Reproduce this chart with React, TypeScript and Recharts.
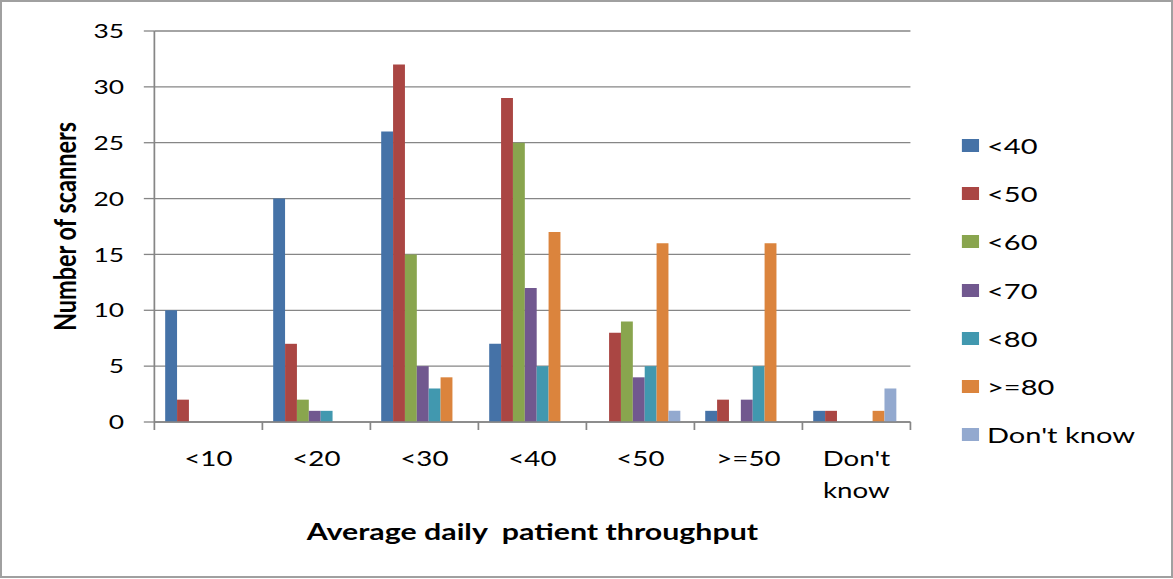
import React from 'react';
import { BarChart, Bar, XAxis, YAxis, CartesianGrid, Legend } from 'recharts';

// Throughput bands along the x axis
const categories = ['<10', '<20', '<30', '<40', '<50', '>=50', "Don't know"];

// Scanner counts per series, one value per throughput band
const lt40 = [10, 20, 26, 7, 0, 1, 1];
const lt50 = [2, 7, 32, 29, 8, 2, 1];
const lt60 = [0, 2, 15, 25, 9, 0, 0];
const lt70 = [0, 1, 5, 12, 4, 2, 0];
const lt80 = [0, 1, 3, 5, 5, 5, 0];
const ge80 = [0, 0, 4, 17, 16, 16, 1];
const dontKnow = [0, 0, 0, 0, 1, 0, 3];

const yTicks = [0, 5, 10, 15, 20, 25, 30, 35];

const series = [
  { key: 'lt40', name: '<40', values: lt40, color: '#4572A7' },
  { key: 'lt50', name: '<50', values: lt50, color: '#AA4643' },
  { key: 'lt60', name: '<60', values: lt60, color: '#89A54E' },
  { key: 'lt70', name: '<70', values: lt70, color: '#71588F' },
  { key: 'lt80', name: '<80', values: lt80, color: '#4198AF' },
  { key: 'ge80', name: '>=80', values: ge80, color: '#DB843D' },
  { key: 'dk', name: "Don't know", values: dontKnow, color: '#93A9CF' },
];

const data = categories.map((category, i) => {
  const row: Record<string, string | number> = { category };
  series.forEach((s) => {
    row[s.key] = s.values[i];
  });
  return row;
});

const FONT = 'Lato, "Open Sans", sans-serif';
const AXIS = '#868686';

// The chart is laid out narrow and stretched sideways to the full width
const OUTER_W = 1173;
const OUTER_H = 579;
const INNER_W = 889;

// Category tick: boundary tick mark on the left of each band, text below (wrapped on spaces)
const CategoryTick = (props: any) => {
  const { x, y, payload, index, visibleTicksCount } = props;
  const half = payload.offset ?? 0;
  const lines = String(payload.value).split(' ');
  return (
    <g>
      <line x1={x - half} x2={x - half} y1={y} y2={y + 8} stroke={AXIS} strokeWidth={1.3} />
      {index === visibleTicksCount - 1 && (
        <line x1={x + half} x2={x + half} y1={y} y2={y + 8} stroke={AXIS} strokeWidth={1.3} />
      )}
      <text x={x} y={y + 44} textAnchor="middle" fontFamily={FONT} fontSize={21} fill="#000">
        {lines.map((line, i) => (
          <tspan key={i} x={x} dy={i === 0 ? 0 : 32}>
            {line}
          </tspan>
        ))}
      </text>
    </g>
  );
};

const XTitle = ({ viewBox }: any) => (
  <text
    x={viewBox.x + viewBox.width / 2}
    y={viewBox.y + 118}
    textAnchor="middle"
    fontFamily={FONT}
    fontWeight={700}
    fontSize={23}
    fill="#000"
    style={{ whiteSpace: 'pre' }}
  >
    Average daily  patient throughput
  </text>
);

const YTitle = ({ viewBox }: any) => {
  const cx = viewBox.x + 49;
  const cy = viewBox.y + viewBox.height / 2;
  return (
    <text
      x={cx}
      y={cy}
      transform={`rotate(-90 ${cx} ${cy})`}
      textAnchor="middle"
      dominantBaseline="central"
      fontFamily={FONT}
      fontWeight={700}
      fontSize={23.5}
      fill="#000"
    >
      Number of scanners
    </text>
  );
};

const LegendList = ({ payload }: any) => (
  <div style={{ fontFamily: FONT, fontSize: 22, color: '#000' }}>
    {(payload || []).map((entry: any) => (
      <div key={entry.value} style={{ display: 'flex', alignItems: 'center', height: 48.3 }}>
        <span style={{ display: 'inline-block', width: 13, height: 13, background: entry.color, marginRight: 6 }} />
        <span>{entry.value}</span>
      </div>
    ))}
  </div>
);

export default function App() {
  return (
    <div
      style={{
        position: 'absolute',
        left: 0,
        top: 0,
        width: OUTER_W,
        height: OUTER_H,
        background: '#fff',
        overflow: 'hidden',
      }}
    >
      <div style={{ width: INNER_W, height: OUTER_H, transform: `scaleX(${OUTER_W / INNER_W})`, transformOrigin: '0 0' }}>
        <BarChart
          width={INNER_W}
          height={OUTER_H}
          data={data}
          margin={{ top: 31, right: 199, bottom: 0, left: 0 }}
          barCategoryGap="10%"
          barGap={0}
        >
          <CartesianGrid vertical={false} stroke={AXIS} strokeWidth={1.3} />
          <XAxis
            dataKey="category"
            height={157}
            axisLine={{ stroke: AXIS, strokeWidth: 1.3 }}
            tickLine={false}
            tickSize={0}
            tickMargin={0}
            interval={0}
            tick={<CategoryTick />}
            label={<XTitle />}
          />
          <YAxis
            width={117}
            domain={[0, 35]}
            ticks={yTicks}
            interval={0}
            axisLine={{ stroke: AXIS, strokeWidth: 1.3 }}
            tickLine={{ stroke: AXIS, strokeWidth: 1.3 }}
            tickSize={8}
            tickMargin={15}
            tick={{ fill: '#000', fontSize: 20, fontFamily: FONT }}
            label={<YTitle />}
          />
          <Legend
            layout="vertical"
            align="center"
            verticalAlign="middle"
            content={<LegendList />}
            wrapperStyle={{ left: 729, top: 121, width: 150 }}
          />
          {series.map((s) => (
            <Bar key={s.key} dataKey={s.key} name={s.name} fill={s.color} isAnimationActive={false} />
          ))}
        </BarChart>
      </div>
      <div
        style={{
          position: 'absolute',
          left: 0,
          top: 0,
          width: OUTER_W,
          height: OUTER_H - 1,
          border: '2px solid #a0a0a0',
          boxSizing: 'border-box',
          pointerEvents: 'none',
        }}
      />
    </div>
  );
}
